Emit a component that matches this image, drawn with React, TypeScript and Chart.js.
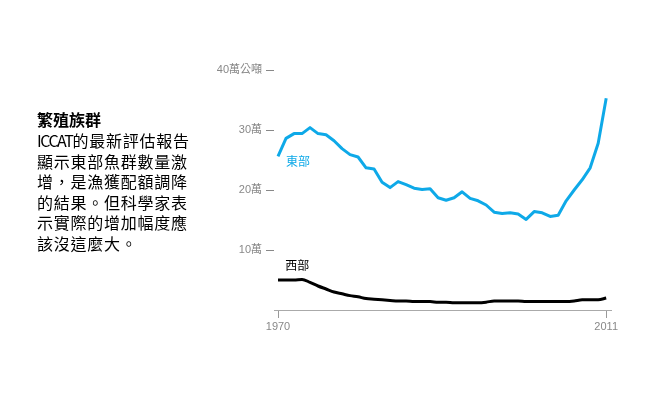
import React, { useEffect, useRef } from "react";
import { Chart, registerables } from "chart.js";

Chart.register(...registerables);

const years: number[] = [];
for (let y = 1970; y <= 2011; y++) years.push(y);

const eastValues = [
  25.6, 28.6, 29.4, 29.4, 30.4, 29.4, 29.2, 28.2, 26.9, 25.9,
  25.5, 23.7, 23.5, 21.3, 20.4, 21.4, 20.9, 20.3, 20.1, 20.2,
  18.7, 18.3, 18.7, 19.7, 18.6, 18.2, 17.5, 16.3, 16.1, 16.2,
  16.0, 15.1, 16.4, 16.2, 15.6, 15.8, 18.2, 20.0, 21.7, 23.7,
  27.8, 35.3,
];

const westValues = [
  5.0, 5.0, 5.0, 5.1, 4.6, 4.0, 3.5, 3.0, 2.7, 2.4,
  2.2, 1.9, 1.8, 1.7, 1.6, 1.5, 1.5, 1.4, 1.4, 1.4,
  1.3, 1.3, 1.2, 1.2, 1.2, 1.2, 1.3, 1.5, 1.5, 1.5,
  1.5, 1.4, 1.4, 1.4, 1.4, 1.4, 1.4, 1.5, 1.7, 1.7,
  1.7, 2.0,
];

const xTickValues = [1970, 2011];
const yTickValues = [10, 20, 30, 40];
const yTickLabels: Record<number, string> = {
  10: "10萬",
  20: "20萬",
  30: "30萬",
  40: "40萬公噸",
};

const seriesNames = ["東部", "西部"];
const seriesLabelAnchors = [
  { x: 1971, y: 24.8 },
  { x: 1970.9, y: 7.5 },
];

const titleText = "繁殖族群";
const bodyLines = [
  ["ICCAT", "的最新評估報告"],
  ["", "顯示東部魚群數量激"],
  ["", "增，是漁獲配額調降"],
  ["", "的結果。但科學家表"],
  ["", "示實際的增加幅度應"],
  ["", "該沒這麼大。"],
];

const BLUE = "#0ea9e8";
const FONT = "'Liberation Sans', 'Noto Sans CJK TC', sans-serif";
const CJK = "'Noto Sans CJK TC', sans-serif";

export default function App() {
  const ref = useRef<HTMLCanvasElement>(null);

  useEffect(() => {
    if (!ref.current) return;
    const colors = [BLUE, "#000000"];
    const labelPlugin = {
      id: "seriesLabels",
      afterDatasetsDraw(chart: any) {
        const ctx = chart.ctx;
        const xs = chart.scales.x;
        const ys = chart.scales.y;
        ctx.save();
        ctx.font = `12px ${CJK}`;
        ctx.textAlign = "left";
        ctx.textBaseline = "middle";
        seriesNames.forEach((name, i) => {
          ctx.fillStyle = colors[i];
          ctx.fillText(
            name,
            xs.getPixelForValue(seriesLabelAnchors[i].x),
            ys.getPixelForValue(seriesLabelAnchors[i].y)
          );
        });
        ctx.restore();
      },
    };

    const chart = new Chart(ref.current, {
      type: "line",
      data: {
        datasets: [
          {
            label: seriesNames[0],
            data: years.map((y, i) => ({ x: y, y: eastValues[i] })),
            borderColor: BLUE,
            borderWidth: 3,
            pointRadius: 0,
            tension: 0,
            borderJoinStyle: "round",
          },
          {
            label: seriesNames[1],
            data: years.map((y, i) => ({ x: y, y: westValues[i] })),
            borderColor: "#000000",
            borderWidth: 3,
            pointRadius: 0,
            cubicInterpolationMode: "monotone",
          },
        ],
      },
      options: {
        responsive: false,
        animation: false,
        layout: { padding: { top: 70, right: 48, left: 0, bottom: 0 } },
        plugins: {
          legend: { display: false },
          tooltip: { enabled: false },
        },
        scales: {
          x: {
            type: "linear",
            min: 1969.5,
            max: 2011.6,
            afterBuildTicks: (s: any) => {
              s.ticks = xTickValues.map((v) => ({ value: v }));
            },
            afterFit: (s: any) => {
              s.height = 87;
            },
            grid: {
              drawOnChartArea: false,
              drawTicks: true,
              tickLength: 8,
              color: "#999999",
            },
            border: { display: true, color: "#aaaaaa", width: 1 },
            ticks: {
              color: "#888888",
              font: { size: 11, family: FONT },
              padding: 2,
              maxRotation: 0,
              autoSkip: false,
              callback: (v: any) => String(v),
            },
          },
          y: {
            min: 0,
            max: 40,
            afterBuildTicks: (s: any) => {
              s.ticks = yTickValues.map((v) => ({ value: v }));
            },
            afterFit: (s: any) => {
              s.width = 274;
            },
            grid: {
              drawOnChartArea: false,
              drawTicks: true,
              tickLength: 8,
              color: "#888888",
            },
            border: { display: false },
            ticks: {
              color: "#888888",
              font: { size: 11, family: FONT },
              padding: 4,
              autoSkip: false,
              callback: (v: any) => yTickLabels[v as number] ?? "",
            },
          },
        },
      },
      plugins: [labelPlugin],
    } as any);
    return () => chart.destroy();
  }, []);

  return (
    <div
      style={{
        position: "fixed",
        left: 0,
        top: 0,
        width: 659,
        height: 397,
        background: "#ffffff",
        overflow: "hidden",
      }}
    >
      <canvas
        ref={ref}
        width={659}
        height={397}
        style={{ position: "absolute", left: 0, top: 0, width: 659, height: 397 }}
      />
      <div
        style={{
          position: "absolute",
          left: 37,
          top: 109,
          fontFamily: CJK,
          color: "#000",
          whiteSpace: "nowrap",
        }}
      >
        <div style={{ fontSize: 16, fontWeight: 700, lineHeight: "21px" }}>{titleText}</div>
        {bodyLines.map((parts, i) => (
          <div key={i} style={{ fontSize: 16, lineHeight: "20.5px", letterSpacing: 0.75 }}>
            {parts[0] ? (
              <span style={{ fontSize: 16, letterSpacing: -1.5 }}>{parts[0]}</span>
            ) : null}
            {parts[1]}
          </div>
        ))}
      </div>
    </div>
  );
}
